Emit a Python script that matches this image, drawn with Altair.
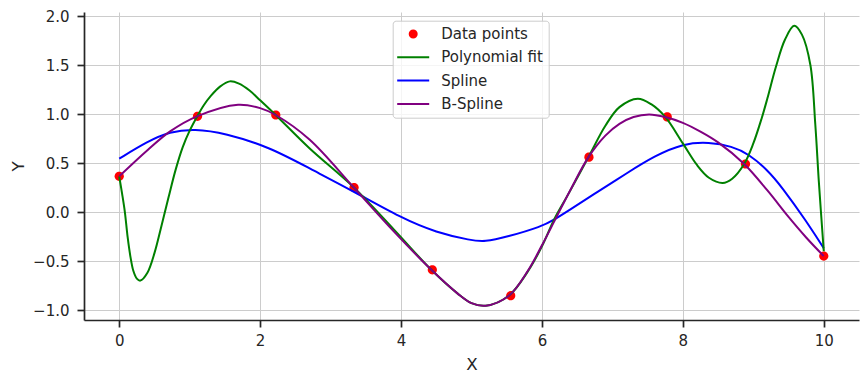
import altair as alt
import pandas as pd

# ---- data ----
series_names = ["Data points", "Polynomial fit", "Spline", "B-Spline"]
series_colors = ["red", "green", "blue", "purple"]

pts_x = [0.0, 1.111, 2.222, 3.333, 4.444, 5.556, 6.667, 7.778, 8.889, 10.0]
pts_y = [0.364, 0.976, 0.99, 0.25, -0.59, -0.854, 0.56, 0.97, 0.49, -0.45]

poly_x = [0.0, 0.04, 0.08, 0.12, 0.16, 0.2, 0.25, 0.3, 0.4, 0.5, 0.6, 0.7, 0.8, 0.9,
          1.0, 1.11, 1.2, 1.3, 1.43, 1.57, 1.7, 1.85, 2.0, 2.22, 2.7, 3.33, 3.9, 4.43,
          4.8, 5.0, 5.2, 5.53, 5.8, 6.0, 6.17, 6.38, 6.66, 6.9, 7.1, 7.36, 7.55, 7.75,
          8.0, 8.2, 8.37, 8.565, 8.7, 8.87, 9.0, 9.12, 9.2, 9.32, 9.45, 9.58, 9.69,
          9.81, 9.88, 9.93, 10.0]
poly_y = [0.364, 0.19, 0.0, -0.26, -0.46, -0.6, -0.68, -0.70, -0.62, -0.42, -0.14, 0.15, 0.43, 0.66,
          0.83, 0.98, 1.09, 1.185, 1.28, 1.333, 1.31, 1.24, 1.14, 0.99, 0.65, 0.25, -0.18, -0.59,
          -0.83, -0.93, -0.956, -0.854, -0.606, -0.35, -0.08, 0.19, 0.56, 0.88, 1.07, 1.156, 1.10, 0.97,
          0.70, 0.48, 0.35, 0.296, 0.34, 0.49, 0.70, 0.96, 1.16, 1.48, 1.76, 1.90, 1.81,
          1.5, 0.89, 0.31, -0.40]

spline_x = [0.0, 0.4, 0.717, 1.07, 1.5, 2.13, 2.7, 3.33, 4.0, 4.5, 5.0, 5.18, 5.5, 6.0,
            6.17, 6.38, 6.8, 7.19, 7.6, 8.01, 8.37, 8.7, 8.93, 9.2, 9.4, 9.74, 10.0]
spline_y = [0.544, 0.72, 0.82, 0.85, 0.805, 0.663, 0.445, 0.21, -0.06, -0.21, -0.29, -0.305, -0.255, -0.147,
            -0.08, 0.016, 0.21, 0.39, 0.574, 0.70, 0.714, 0.67, 0.594, 0.43, 0.26, -0.08, -0.37]

bspline_x = [0.0, 0.4, 0.717, 1.103, 1.687, 2.0, 2.22, 2.7, 3.33, 3.9, 4.43, 4.8, 5.0, 5.2,
             5.53, 5.8, 6.0, 6.2, 6.4, 6.66, 6.9, 7.1, 7.3, 7.52, 7.75, 8.0, 8.25, 8.5,
             8.87, 9.2, 9.5, 9.75, 10.0]
bspline_y = [0.364, 0.63, 0.82, 0.976, 1.095, 1.06, 0.99, 0.74, 0.25, -0.2, -0.59, -0.83, -0.93, -0.956,
             -0.854, -0.6, -0.34, -0.06, 0.22, 0.56, 0.78, 0.90, 0.97, 0.996, 0.97, 0.91, 0.82, 0.71,
             0.49, 0.22, -0.05, -0.26, -0.45]

x_ticks = [0, 2, 4, 6, 8, 10]
y_ticks = [-1.0, -0.5, 0.0, 0.5, 1.0, 1.5, 2.0]

# ---- tables ----
pts_df = pd.DataFrame({"x": pts_x, "y": pts_y, "series": series_names[0]})
sharp_df = pd.concat([
    pd.DataFrame({"x": poly_x, "y": poly_y, "series": series_names[1]}),
    pd.DataFrame({"x": bspline_x, "y": bspline_y, "series": series_names[3]}),
], ignore_index=True)
smooth_df = pd.DataFrame({"x": spline_x, "y": spline_y, "series": series_names[2]})

FONT = "DejaVu Sans"
TXT = "#262626"

circle_path = "M-0.583,0A0.583,0.583,0,1,1,0.583,0A0.583,0.583,0,1,1,-0.583,0Z"
line_path = "M-2.667,0L2.667,0"

legend = alt.Legend(
    title=None, orient="none", legendX=308.7, legendY=8.7,
    fillColor="rgba(255,255,255,0.8)", strokeColor="#cccccc", cornerRadius=3,
    padding=5.8, rowPadding=7.3, symbolOffset=7.2, labelOffset=20.5,
    symbolSize=144, symbolStrokeWidth=2,
    labelFontSize=15, labelFont=FONT, labelColor=TXT, labelLimit=300,
)

fill_scale = alt.Scale(domain=series_names, range=series_colors)
stroke_scale = alt.Scale(domain=series_names, range=series_colors)
shape_scale = alt.Scale(domain=series_names, range=[circle_path, line_path, line_path, line_path])

x_enc = alt.X("x:Q", scale=alt.Scale(domain=[-0.5, 10.5], nice=False, zero=False),
              axis=alt.Axis(values=x_ticks, format="d", title="X", labelFlush=False))
y_enc = alt.Y("y:Q", scale=alt.Scale(domain=[-1.102, 2.041], nice=False, zero=False),
              axis=alt.Axis(values=y_ticks, title="Y", labelFlush=False,
                            labelExpr="replace(format(datum.value, '.1f'), '-', '\u2212')"))

points = alt.Chart(pts_df).mark_point(filled=True, size=250, opacity=1, strokeWidth=0).encode(
    x=x_enc, y=y_enc,
    fill=alt.Fill("series:N", scale=fill_scale, legend=legend),
    shape=alt.Shape("series:N", scale=shape_scale, legend=legend),
)

sharp_lines = alt.Chart(sharp_df).mark_line(strokeWidth=2, interpolate="catmull-rom").encode(
    x=x_enc, y=y_enc,
    stroke=alt.Stroke("series:N", scale=stroke_scale, legend=legend),
)

smooth_line = alt.Chart(smooth_df).mark_line(strokeWidth=2, interpolate="basis").encode(
    x=x_enc, y=y_enc,
    stroke=alt.Stroke("series:N", scale=stroke_scale, legend=legend),
)

chart = alt.layer(points, smooth_line, sharp_lines).properties(
    width=775, height=308,
    padding={"left": 76, "top": 4, "right": 1, "bottom": 54},
    autosize=alt.AutoSizeParams(type="none"),
    background="white",
).configure_view(strokeWidth=0).configure_axis(
    grid=True, gridColor="#cccccc", gridWidth=1,
    domainColor=TXT, domainWidth=1.7,
    tickColor=TXT, tickWidth=1.7, tickSize=7,
    labelFont=FONT, labelFontSize=15, labelColor=TXT,
    titleFont=FONT, titleFontSize=16.7, titleColor=TXT, titleFontWeight="normal",
).configure_axisX(labelPadding=6, titlePadding=8).configure_axisY(labelPadding=8, titlePadding=5)

chart.save("out.html", embed_options={"renderer": "svg", "actions": False})
